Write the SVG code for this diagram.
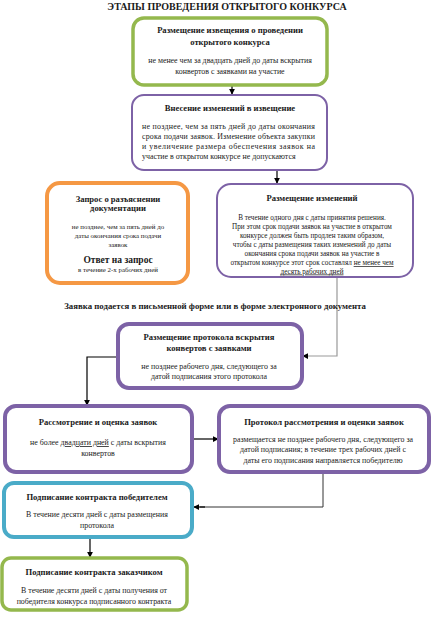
<svg xmlns="http://www.w3.org/2000/svg" width="434" height="623" viewBox="0 0 434 623">
<style>
text{font-family:"Liberation Serif","Times New Roman",serif;fill:#1a1a1a;text-anchor:middle}
.h{font-weight:bold;font-size:8.6px}
.b{font-size:7.9px}
.s{font-size:6.9px}
.m{font-size:7.2px}
.box{fill:#fff}
.g{stroke:#94b84d;stroke-width:3.5}
.p{stroke:#7d62a6;stroke-width:2}
.pp{stroke:#7d62a6;stroke-width:4}
.o{stroke:#f59844;stroke-width:4}
.bl{stroke:#4aabc8;stroke-width:4}
.c{fill:none;stroke:#000;stroke-width:1.2;marker-end:url(#a)}
.u{text-decoration:underline}
</style>
<defs>
<marker id="a" viewBox="0 0 8 8" refX="7" refY="4" markerWidth="6" markerHeight="6" orient="auto" markerUnits="userSpaceOnUse"><path d="M0,0 L8,4 L0,8 z" fill="#000"/></marker>
</defs>
<text x="227" y="10" style="font-weight:bold;font-size:10px">ЭТАПЫ ПРОВЕДЕНИЯ ОТКРЫТОГО КОНКУРСА</text>
<g id="connectors">
<path class="c" d="M232,86 V94"/>
<path class="c" d="M277,170 V183"/>
<path d="M337,277 V356 H304" fill="none" stroke="#999" stroke-width="1.2"/>
<path class="c" d="M308,356 H303" style="stroke-width:1"/>
<path class="c" d="M118,357 H87 V405"/>
<path class="c" d="M192,439 H218"/>
<path d="M323,472 V507 H200" fill="none" stroke="#333" stroke-width="1"/>
<path class="c" d="M205,507 H194"/>
<path class="c" d="M90,537 V557"/>
</g>
<g id="n1">
<rect class="box g" x="133" y="18" width="194" height="67" rx="11"/>
<text class="h" x="230" y="33">Размещение извещения о проведении</text>
<text class="h" x="230" y="45">открытого конкурса</text>
<text class="b" x="230" y="63">не менее чем за двадцать дней до даты вскрытия</text>
<text class="b" x="230" y="74">конвертов с заявками на участие</text>
</g>
<g id="n2">
<rect class="box p" x="132" y="95" width="195" height="75" rx="12"/>
<text class="h" x="230" y="111">Внесение изменений в извещение</text>
<text class="b" x="142" y="129" style="text-anchor:start" textLength="173" lengthAdjust="spacing">не позднее, чем за пять дней до даты окончания</text>
<text class="b" x="142" y="139" style="text-anchor:start" textLength="173" lengthAdjust="spacing">срока подачи заявок.  Изменение объекта закупки</text>
<text class="b" x="142" y="149" style="text-anchor:start" textLength="173" lengthAdjust="spacing">и  увеличение  размера  обеспечения  заявок  на</text>
<text class="b" x="142" y="159" style="text-anchor:start">участие в открытом конкурсе не допускаются</text>
</g>
<g id="n3">
<rect class="box o" x="47" y="183" width="141" height="100" rx="13"/>
<text class="h" x="118" y="202">Запрос о разъяснении</text>
<text class="h" x="118" y="211">документации</text>
<text class="s" x="118" y="229">не позднее, чем за пять дней до</text>
<text class="s" x="118" y="238">даты окончания срока подачи</text>
<text class="s" x="118" y="247">заявок</text>
<text class="h" x="118" y="263" style="font-size:9.5px">Ответ на запрос</text>
<text class="s" x="118" y="272">в течение 2-х рабочих дней</text>
</g>
<g id="n4">
<rect class="box p" x="217" y="184" width="196" height="93" rx="14"/>
<text class="h" x="312" y="201">Размещение изменений</text>
<text class="m" x="312" y="220">В течение одного дня с даты принятия решения.</text>
<text class="m" x="312" y="229">При этом срок подачи заявок на участие в открытом</text>
<text class="m" x="312" y="238">конкурсе должен быть продлен таким образом,</text>
<text class="m" x="312" y="247">чтобы с даты размещения таких  изменений до даты</text>
<text class="m" x="312" y="256">окончания срока  подачи заявок на участие в</text>
<text class="m" x="312" y="265">открытом конкурсе этот срок составлял <tspan class="u">не менее чем</tspan></text>
<text class="m u" x="312" y="273.5">десять рабочих дней</text>
</g>
<text class="h" x="215" y="309" style="font-size:8.8px">Заявка подается в письменной форме или в форме электронного  документа</text>
<g id="n5">
<rect class="box pp" x="118" y="324" width="184" height="64" rx="11"/>
<text class="h" x="209" y="340">Размещение протокола вскрытия</text>
<text class="h" x="209" y="351">конвертов с заявками</text>
<text class="b" x="209" y="369">не позднее рабочего дня, следующего за</text>
<text class="b" x="209" y="379">датой подписания этого протокола</text>
</g>
<g id="n6">
<rect class="box pp" x="5" y="406" width="187" height="66" rx="11"/>
<text class="h" x="98" y="425">Рассмотрение и оценка заявок</text>
<text class="b" x="98" y="445">не более <tspan class="u">двадцати дней</tspan> с даты вскрытия</text>
<text class="b" x="98" y="456">конвертов</text>
</g>
<g id="n7">
<rect class="box pp" x="219" y="406" width="210" height="66" rx="11"/>
<text class="h" x="324" y="425">Протокол рассмотрения и оценки заявок</text>
<text class="b" x="323" y="442">размещается не позднее рабочего дня, следующего за</text>
<text class="b" x="323" y="452">датой подписания;  в течение трех рабочих дней с</text>
<text class="b" x="323" y="463">даты его подписания направляется победителю</text>
</g>
<g id="n8">
<rect class="box bl" x="4" y="483" width="188" height="54" rx="10"/>
<text class="h" x="97" y="500">Подписание контракта победителем</text>
<text class="b" x="97" y="517">В течение десяти дней с даты размещения</text>
<text class="b" x="97" y="528">протокола</text>
</g>
<g id="n9">
<rect class="box g" x="2" y="558" width="185" height="52" rx="9"/>
<text class="h" x="94" y="575">Подписание контракта заказчиком</text>
<text class="b" x="94" y="593">В течение десяти дней с даты получения от</text>
<text class="b" x="94" y="604">победителя конкурса подписанного контракта</text>
</g>
</svg>
